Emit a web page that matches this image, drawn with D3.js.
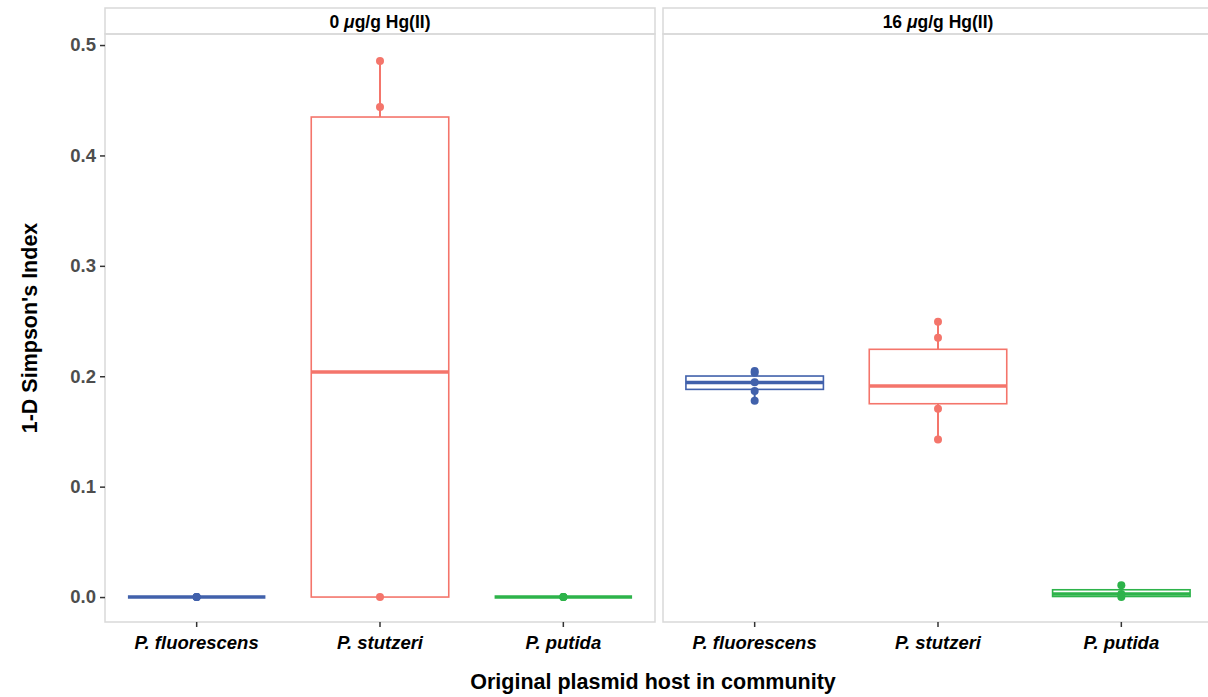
<!DOCTYPE html>
<html>
<head>
<meta charset="utf-8">
<script src="https://cdn.jsdelivr.net/npm/d3@7"></script>
<style>
  body { margin: 0; background: #fff; }
  text { font-family: "Liberation Sans", Arial, sans-serif; }
</style>
</head>
<body>
<div id="chart"></div>
<script>
// hosts on the x axis
var categories = ["P. fluorescens", "P. stutzeri", "P. putida"];
var colors = ["#4161ab", "#f4756b", "#2db34a"];
var panelTitles = ["0", "16"];
var yTicks = [0, 0.1, 0.2, 0.3, 0.4, 0.5];

// 0 ug/g panel (box stats)
var q1_0 = [0, 0, 0];
var med_0 = [0, 0.2038, 0];
var q3_0 = [0, 0.4348, 0];
var lo_0 = [0, 0, 0];
var hi_0 = [0, 0.4855, 0];
var pts_0 = [[0, 0, 0], [0, 0.4438, 0.4855], [0, 0, 0]];

// 16 ug/g panel
var q1_16 = [0.1881, 0.1751, 0.0005];
var med_16 = [0.1943, 0.1911, 0.0028];
var q3_16 = [0.2002, 0.2244, 0.0066];
var lo_16 = [0.1778, 0.1428, 0];
var hi_16 = [0.2047, 0.2494, 0.0107];
var pts_16 = [[0.2047, 0.2032, 0.1945, 0.1866, 0.1778], [0.2494, 0.2349, 0.1706, 0.1428], [0.0107, 0.0028, 0]];

var width = 1208, height = 697;
var plotTop = 34, plotBottom = 622;
var panelX = [105, 663], panelW = 550;

var svg = d3.select("#chart").append("svg")
    .attr("width", width).attr("height", height);

var y = d3.scaleLinear().domain([-0.0226, 0.510]).range([plotBottom, plotTop]);

var stats = [
  {q1: q1_0, med: med_0, q3: q3_0, lo: lo_0, hi: hi_0, pts: pts_0},
  {q1: q1_16, med: med_16, q3: q3_16, lo: lo_16, hi: hi_16, pts: pts_16}
];

stats.forEach(function(s, p) {
  var x = d3.scaleBand().domain(categories).range([0, panelW]).padding(0);
  var bw = x.bandwidth() * 0.75;
  var g = svg.append("g").attr("transform", `translate(${panelX[p]},0)`);

  // strip
  g.append("rect").attr("x", 0).attr("y", 8).attr("width", panelW).attr("height", plotTop - 8)
    .attr("fill", "#fff").attr("stroke", "#d9d9d9").attr("stroke-width", 1.5);
  var st = g.append("text").attr("x", panelW / 2).attr("y", 27.5)
    .attr("text-anchor", "middle").attr("font-size", 17.5).attr("font-weight", "bold");
  st.append("tspan").text(panelTitles[p] + " ");
  st.append("tspan").attr("font-style", "italic").text("\u03bc");
  st.append("tspan").text("g/g Hg(II)");

  // panel border
  g.append("rect").attr("x", 0).attr("y", plotTop).attr("width", panelW).attr("height", plotBottom - plotTop)
    .attr("fill", "none").attr("stroke", "#d9d9d9").attr("stroke-width", 1.5);

  categories.forEach(function(c, i) {
    var cx = x(c) + x.bandwidth() / 2;
    var col = colors[i];
    // whiskers
    g.append("line").attr("x1", cx).attr("x2", cx)
      .attr("y1", y(s.q3[i])).attr("y2", y(s.hi[i]))
      .attr("stroke", col).attr("stroke-width", 2);
    g.append("line").attr("x1", cx).attr("x2", cx)
      .attr("y1", y(s.q1[i])).attr("y2", y(s.lo[i]))
      .attr("stroke", col).attr("stroke-width", 2);
    // box
    g.append("rect").attr("x", cx - bw / 2).attr("width", bw)
      .attr("y", y(s.q3[i])).attr("height", y(s.q1[i]) - y(s.q3[i]))
      .attr("fill", "#fff").attr("stroke", col).attr("stroke-width", 1.6);
    // median
    g.append("line").attr("x1", cx - bw / 2).attr("x2", cx + bw / 2)
      .attr("y1", y(s.med[i])).attr("y2", y(s.med[i]))
      .attr("stroke", col).attr("stroke-width", 3.5);
    // points
    g.selectAll(null).data(s.pts[i]).join("circle")
      .attr("cx", cx).attr("cy", d => y(d)).attr("r", 4)
      .attr("fill", col);
  });

  // x axis
  var xa = g.append("g").attr("transform", `translate(0,${plotBottom})`)
    .call(d3.axisBottom(x).tickSize(5).tickPadding(4));
  xa.select(".domain").remove();
  xa.selectAll(".tick line").attr("stroke", "#333").attr("stroke-width", 1.5);
  xa.selectAll(".tick text").attr("font-size", 18.5).attr("font-weight", "bold")
    .attr("font-style", "italic").attr("fill", "#000")
    .attr("font-family", "Liberation Sans, Arial, sans-serif").attr("dy", "0.95em");
});

// y axis
var ya = svg.append("g").attr("transform", `translate(${panelX[0]},0)`)
  .call(d3.axisLeft(y).tickValues(yTicks).tickFormat(d3.format(".1f")).tickSize(5).tickPadding(4));
ya.select(".domain").remove();
ya.selectAll(".tick line").attr("stroke", "#333").attr("stroke-width", 1.5);
ya.selectAll(".tick text").attr("font-size", 18.5).attr("font-weight", "bold")
  .attr("fill", "#4d4d4d").attr("font-family", "Liberation Sans, Arial, sans-serif");

// axis titles
svg.append("text").attr("x", 653).attr("y", 689).attr("text-anchor", "middle")
  .attr("font-size", 21.5).attr("font-weight", "bold").text("Original plasmid host in community");
svg.append("text").attr("transform", "translate(37,328) rotate(-90)").attr("text-anchor", "middle")
  .attr("font-size", 21.5).attr("font-weight", "bold").text("1-D Simpson's Index");
</script>
</body>
</html>
